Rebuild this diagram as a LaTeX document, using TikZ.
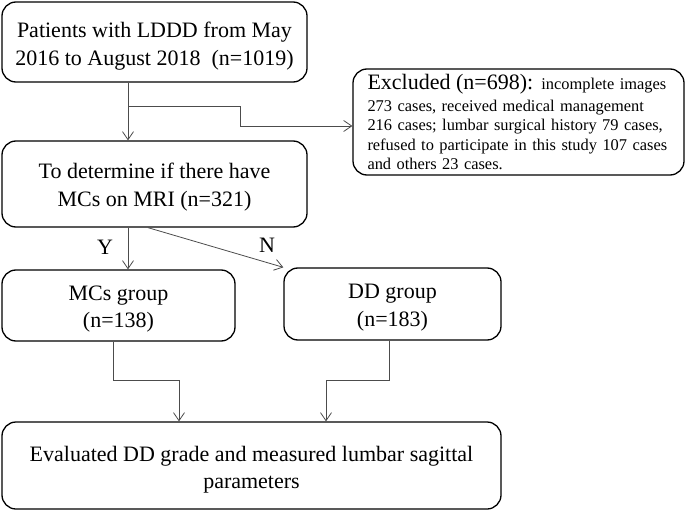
\documentclass[tikz,border=0pt]{standalone}
\usepackage{fontspec}
\setmainfont{Liberation Serif}
\usetikzlibrary{arrows.meta}
\newcommand{\tpad}{\rule{0pt}{22pt}}
\begin{document}
\begin{tikzpicture}[x=1pt,y=-1pt,
  box/.style={draw=black,line width=1.3pt,rounded corners=14pt,inner sep=0pt,align=center,font=\fontsize{22}{27.5}\selectfont},
  arr/.style={draw=black!70,line width=0.8pt,-{Straight Barb[length=8pt,width=11pt,line width=0.8pt]}},
  lab/.style={font=\fontsize{22}{26}\selectfont,inner sep=0pt}]
\useasboundingbox (0,0) rectangle (685,513);
\node[box,minimum width=305pt,minimum height=80pt] (b1) at (154.5,42) {\rule{0pt}{24pt}Patients with LDDD from May\\2016 to August 2018~~(n=1019)};
\node[box,minimum width=331pt,minimum height=106pt,text width=302pt,align=left,font=\fontsize{16.4}{19.5}\selectfont] (ex) at (518.5,122)
  {{\fontsize{22}{19.5}\selectfont Excluded (n=698):} incomplete images\\[2pt]273 cases, received medical management\\216 cases; lumbar surgical history 79 cases,\\refused to participate in this study 107 cases\\and others 23 cases.};
\node[box,minimum width=305pt,minimum height=86pt] (b2) at (154.5,184) {\tpad To determine if there have\\MCs on MRI (n=321)};
\node[box,minimum width=233pt,minimum height=71pt] (mc) at (118.5,305.5) {\tpad MCs group\\(n=138)};
\node[box,minimum width=217pt,minimum height=72pt] (dd) at (392.5,304) {\tpad DD group\\(n=183)};
\node[box,minimum width=499pt,minimum height=87pt] (ev) at (251.5,465.5) {\rule{0pt}{24pt}Evaluated DD grade and measured lumbar sagittal\\parameters};
\coordinate (c1) at (128,106);
\coordinate (c2) at (240,126);
\coordinate (cy) at (148,0);
\coordinate (m1) at (113,380);
\coordinate (m2) at (179,0);
\coordinate (d1) at (389,380);
\coordinate (d2) at (326,0);
\draw[arr] (b1.south -| c1) -- (b2.north -| c1);
\draw[arr] (c1) -- (c1 -| c2) -- (c2) -- (ex.west |- c2);
\draw[arr] (b2.south -| c1) -- (mc.north -| c1);
\draw[arr] (b2.south -| cy) -- (dd.north west);
\node[lab] (y) at (105,247) {Y};
\node[lab] (n) at (267,245) {N};
\draw[arr] (mc.south -| m1) -- (m1) -- (m1 -| m2) -- (ev.north -| m2);
\draw[arr] (dd.south -| d1) -- (d1) -- (d1 -| d2) -- (ev.north -| d2);
\end{tikzpicture}
\end{document}
